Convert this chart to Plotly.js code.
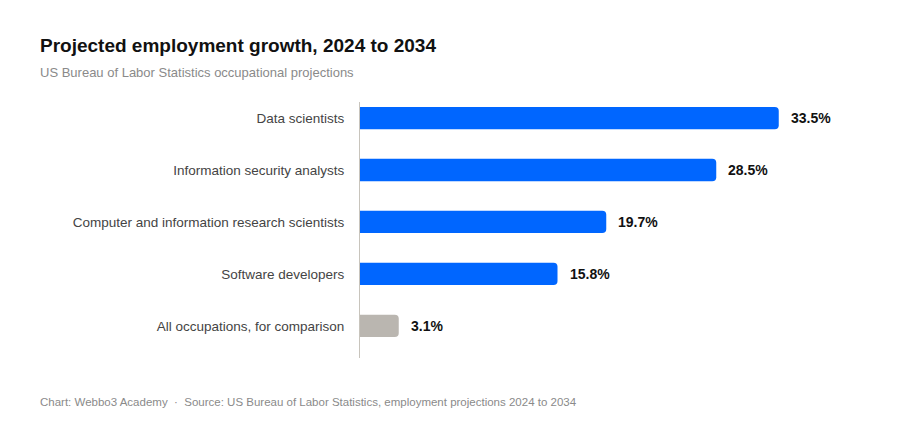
<!DOCTYPE html>
<html>
<head>
<meta charset="utf-8">
<script src="https://cdn.plot.ly/plotly-3.0.1.min.js"></script>
<style>
  html, body { margin: 0; padding: 0; background: #fff; }
  #chart { width: 900px; height: 430px; }
</style>
</head>
<body>
<div id="chart"></div>
<script>
// Occupations, top to bottom
const occupations = [
    'Data scientists',
    'Information security analysts',
    'Computer and information research scientists',
    'Software developers',
    'All occupations, for comparison'
];

// Projected growth, percent
const growth = [33.5, 28.5, 19.7, 15.8, 3.1];

// Last row is the benchmark, drawn grey
const barColors = ['#0066ff', '#0066ff', '#0066ff', '#0066ff', '#bab6b0'];

const FONT = "'Liberation Sans', Arial, sans-serif";

const trace = {
    type: 'bar',
    orientation: 'h',
    x: growth,
    y: occupations,
    marker: { color: barColors, cornerradius: 4 },
    width: 0.43,
    hoverinfo: 'skip'
};

// Value labels next to each bar end
const valueLabels = occupations.map((name, i) => ({
    x: growth[i],
    y: name,
    xref: 'x',
    yref: 'y',
    text: growth[i].toFixed(1) + '%',
    showarrow: false,
    xanchor: 'left',
    xshift: 10,
    font: { family: FONT, size: 14, color: '#111', weight: 700 }
}));

const layout = {
    width: 900,
    height: 430,
    paper_bgcolor: '#fff',
    plot_bgcolor: '#fff',
    showlegend: false,
    margin: { l: 360, r: 40, t: 102, b: 72 },
    font: { family: FONT },
    title: {
        text: '<b>Projected employment growth, 2024 to 2034</b>',
        x: 40 / 900,
        xanchor: 'left',
        xref: 'container',
        y: 1 - 45 / 430,
        yref: 'container',
        yanchor: 'middle',
        font: { family: FONT, size: 19, color: '#111' }
    },
    xaxis: {
        range: [0, 40],
        showgrid: false,
        zeroline: false,
        showline: false,
        showticklabels: false,
        fixedrange: true
    },
    yaxis: {
        categoryorder: 'array',
        categoryarray: occupations,
        range: [4.62, -0.31],
        showgrid: false,
        zeroline: false,
        showline: true,
        linecolor: '#c8c4bc',
        linewidth: 1,
        ticks: '',
        ticklabelstandoff: 12,
        tickfont: { family: FONT, size: 13.5, color: '#444' },
        fixedrange: true
    },
    annotations: [
        {
            text: 'US Bureau of Labor Statistics occupational projections',
            xref: 'paper', yref: 'paper',
            x: -320 / 500, y: 1 + (102 - 72) / 256,
            xanchor: 'left', yanchor: 'middle', xshift: -2,
            showarrow: false,
            font: { family: FONT, size: 13, color: '#8a8a8a' }
        },
        {
            text: 'Chart: Webbo3 Academy  ·  Source: US Bureau of Labor Statistics, employment projections 2024 to 2034',
            xref: 'paper', yref: 'paper',
            x: -320 / 500, y: -(402 - 358) / 256,
            xanchor: 'left', yanchor: 'middle', xshift: -2,
            showarrow: false,
            font: { family: FONT, size: 11.5, color: '#8a8a8a' }
        },
        ...valueLabels
    ]
};

Plotly.newPlot('chart', [trace], layout, { staticPlot: true, displayModeBar: false });
</script>
</body>
</html>
